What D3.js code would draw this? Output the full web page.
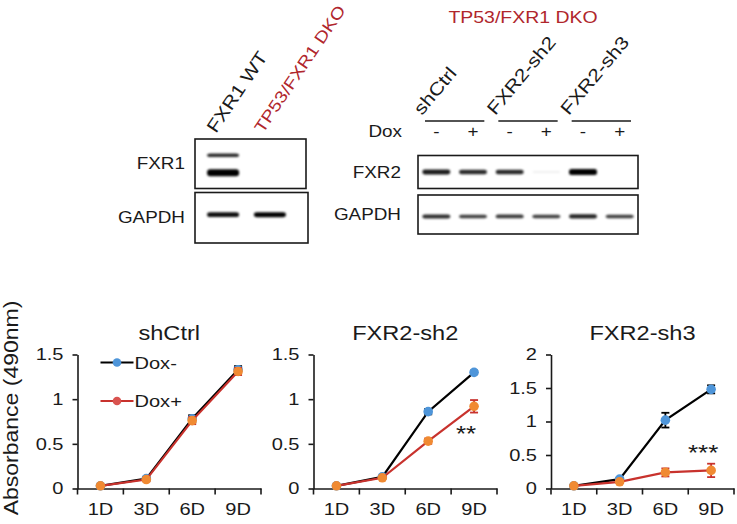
<!DOCTYPE html>
<html><head><meta charset="utf-8">
<script src="https://cdn.jsdelivr.net/npm/d3@7"></script>
<style>
body{margin:0;background:#fff}
svg{display:block}
text{font-family:"Liberation Sans",Arial,Helvetica,sans-serif}
</style>
</head><body>
<svg id="fig" width="737" height="524"></svg>
<script>
// ================= DATA =================
const days = ["1D", "3D", "6D", "9D"];
const panelNames = ["shCtrl", "FXR2-sh2", "FXR2-sh3"];
const seriesNames = ["Dox-", "Dox+"];

const shCtrlDoxMinus    = [0.03, 0.11, 0.78, 1.33];
const shCtrlDoxMinusErr = [0.01, 0.02, 0.04, 0.04];
const shCtrlDoxPlus     = [0.03, 0.10, 0.76, 1.31];
const shCtrlDoxPlusErr  = [0.01, 0.02, 0.04, 0.04];

const sh2DoxMinus    = [0.03, 0.13, 0.86, 1.30];
const sh2DoxMinusErr = [0.01, 0.01, 0.03, 0.02];
const sh2DoxPlus     = [0.03, 0.12, 0.53, 0.92];
const sh2DoxPlusErr  = [0.01, 0.01, 0.03, 0.07];

const sh3DoxMinus    = [0.04, 0.14, 1.02, 1.48];
const sh3DoxMinusErr = [0.01, 0.02, 0.11, 0.06];
const sh3DoxPlus     = [0.04, 0.10, 0.24, 0.27];
const sh3DoxPlusErr  = [0.01, 0.02, 0.06, 0.10];

const yMaxes = [1.5, 1.5, 2];
const yTicksLow = [0, 0.5, 1, 1.5];
const yTicksHigh = [0, 0.5, 1, 1.5, 2];
const sigMarks = ["", "**", "***"];
const sigValues = [null, 0.67, 0.61];
const yAxisTitle = "Absorbance (490nm)";

// western blot 1
const blot1Lanes = ["FXR1 WT", "TP53/FXR1 DKO"];
const blot1Rows = ["FXR1", "GAPDH"];
const fxr1UpperBand = [0.8, 0];
const fxr1LowerBand = [1.0, 0];
const gapdh1Band = [0.9, 0.95];

// western blot 2
const blot2Title = "TP53/FXR1 DKO";
const blot2Groups = ["shCtrl", "FXR2-sh2", "FXR2-sh3"];
const doxStates = ["-", "+"];
const doxLabel = "Dox";
const blot2Rows = ["FXR2", "GAPDH"];
const fxr2Band = [0.85, 0.8, 0.8, 0.06, 1.0, 0];
const gapdh2Band = [0.78, 0.72, 0.74, 0.72, 0.82, 0.72];

// ================= DRAW =================
const SX = 1.18;              // horizontal glyph stretch of the original figure
const INK = "#1a1a1a";
const DARKRED = "#b0262c";
const svg = d3.select("#fig");
const defs = svg.append("defs");
defs.append("filter").attr("id", "blur")
  .attr("x", "-30%").attr("y", "-150%").attr("width", "160%").attr("height", "400%")
  .append("feGaussianBlur").attr("stdDeviation", 0.9);

function stext(parent, x, y, str, o = {}) {
  return parent.append("text")
    .attr("transform", `translate(${x},${y})${o.rotate ? ` rotate(${o.rotate})` : ""} scale(${SX},1)`)
    .attr("text-anchor", o.anchor || "start")
    .attr("font-size", o.size || 16)
    .attr("fill", o.fill || INK)
    .text(str);
}

// ---------- Blot 1 ----------
const b1 = svg.append("g");
const b1x0 = 195, b1x1 = 306;
const b1Boxes = [{ y0: 139, y1: 188.5 }, { y0: 192.5, y1: 243 }];
const b1Lane = d3.scalePoint().domain(blot1Lanes).range([b1x0, 298]).padding(0.6);
b1Boxes.forEach((bx, i) => {
  b1.append("rect").attr("x", b1x0).attr("y", bx.y0)
    .attr("width", b1x1 - b1x0 + (i ? 2 : 0)).attr("height", bx.y1 - bx.y0)
    .attr("fill", "#fff").attr("stroke", INK).attr("stroke-width", 1.6);
  stext(b1, 185, (bx.y0 + bx.y1) / 2 + 5.5, blot1Rows[i], { anchor: "end", size: 16 });
});
const b1Bands = [
  { box: 0, frac: 0.33, vals: fxr1UpperBand, h: 4 },
  { box: 0, frac: 0.68, vals: fxr1LowerBand, h: 7 },
  { box: 1, frac: 0.44, vals: gapdh1Band, h: 5 }
];
b1Bands.forEach(bd => {
  const bx = b1Boxes[bd.box];
  const cy = bx.y0 + (bx.y1 - bx.y0) * bd.frac;
  b1.selectAll(null).data(bd.vals.map((v, i) => ({ v, lane: blot1Lanes[i] })).filter(d => d.v > 0))
    .join("rect")
    .attr("x", d => b1Lane(d.lane) - 16).attr("width", 32)
    .attr("y", d => cy - bd.h * (0.4 + 0.6 * d.v) / 2).attr("height", d => bd.h * (0.4 + 0.6 * d.v))
    .attr("rx", 3)
    .attr("fill", "#000").attr("fill-opacity", d => Math.min(1, d.v * 1.05))
    .attr("filter", "url(#blur)");
});
blot1Lanes.forEach((ln, i) => {
  stext(b1, b1Lane(ln) - 7, 134, ln, { rotate: -56, size: i ? 16.5 : 18, fill: i ? DARKRED : INK });
});

// ---------- Blot 2 ----------
const b2 = svg.append("g");
const b2x0 = 418, b2x1 = 638;
const b2Boxes = [{ y0: 155.5, y1: 188.5 }, { y0: 195, y1: 234 }];
const laneIds = [];
blot2Groups.forEach(g => doxStates.forEach(s => laneIds.push(g + s)));
const b2Lane = d3.scaleBand().domain(laneIds).range([b2x0, b2x1]);
const b2Group = d3.scaleBand().domain(blot2Groups).range([b2x0, b2x1]);
stext(b2, 523, 23, blot2Title, { anchor: "middle", size: 16.5, fill: DARKRED });
blot2Groups.forEach(g => {
  const gx = b2Group(g), gw = b2Group.bandwidth();
  b2.append("line").attr("x1", gx + 7).attr("x2", gx + gw - 7)
    .attr("y1", 121).attr("y2", 121).attr("stroke", INK).attr("stroke-width", 1.4);
  stext(b2, gx + 4, 116, g, { rotate: -50, size: 18 });
});
stext(b2, 402, 137, doxLabel, { anchor: "end", size: 16 });
laneIds.forEach((id, i) => {
  stext(b2, b2Lane(id) + b2Lane.bandwidth() / 2, 137, doxStates[i % 2], { anchor: "middle", size: 16 });
});
b2Boxes.forEach((bx, i) => {
  b2.append("rect").attr("x", b2x0).attr("y", bx.y0)
    .attr("width", b2x1 - b2x0).attr("height", bx.y1 - bx.y0)
    .attr("fill", "#fff").attr("stroke", INK).attr("stroke-width", 1.6);
  stext(b2, 401, (bx.y0 + bx.y1) / 2 + 5.5, blot2Rows[i], { anchor: "end", size: 16 });
});
[{ box: 0, frac: 0.5, vals: fxr2Band, h: 6 }, { box: 1, frac: 0.55, vals: gapdh2Band, h: 5.5 }].forEach(bd => {
  const bx = b2Boxes[bd.box];
  const cy = bx.y0 + (bx.y1 - bx.y0) * bd.frac;
  b2.selectAll(null).data(bd.vals.map((v, i) => ({ v, lane: laneIds[i] })).filter(d => d.v > 0))
    .join("rect")
    .attr("x", d => b2Lane(d.lane) + b2Lane.bandwidth() / 2 - 14).attr("width", 28)
    .attr("y", d => cy - bd.h * (0.3 + 0.7 * d.v * d.v) / 2).attr("height", d => bd.h * (0.3 + 0.7 * d.v * d.v))
    .attr("rx", 2.5)
    .attr("fill", "#000").attr("fill-opacity", d => Math.min(1, d.v * 1.05))
    .attr("filter", "url(#blur)");
});

// ---------- Growth curves ----------
const panels = [
  { minus: shCtrlDoxMinus, minusErr: shCtrlDoxMinusErr, plus: shCtrlDoxPlus, plusErr: shCtrlDoxPlusErr, ticks: yTicksLow, x0: 77.5, x1: 261 },
  { minus: sh2DoxMinus, minusErr: sh2DoxMinusErr, plus: sh2DoxPlus, plusErr: sh2DoxPlusErr, ticks: yTicksLow, x0: 313.5, x1: 497 },
  { minus: sh3DoxMinus, minusErr: sh3DoxMinusErr, plus: sh3DoxPlus, plusErr: sh3DoxPlusErr, ticks: yTicksHigh, x0: 551, x1: 734 }
];
const yBottom = 488.5, yTop = 354.5;
const COL = {
  minus: { line: "#000", marker: "#4e95d9", err: "#000" },
  plus: { line: "#c8322d", marker: "#f08a32", err: "#c8322d" }
};

stext(svg, 18, 408, yAxisTitle, { rotate: -90, anchor: "middle", size: 19.5 });

panels.forEach((p, pi) => {
  const g = svg.append("g");
  const y = d3.scaleLinear().domain([0, yMaxes[pi]]).range([yBottom, yTop]);
  const x = d3.scaleBand().domain(days).range([p.x0, p.x1]);
  const cx = d => x(d) + x.bandwidth() / 2;

  stext(g, (p.x0 + p.x1) / 2, 340, panelNames[pi], { anchor: "middle", size: 20 });

  // y axis
  const ya = g.append("g").attr("transform", `translate(${p.x0},0)`)
    .call(d3.axisLeft(y).tickValues(p.ticks).tickSizeInner(5).tickSizeOuter(0).tickPadding(8).tickFormat(d3.format("~g")));
  // x axis
  const xa = g.append("g").attr("transform", `translate(0,${yBottom})`)
    .call(d3.axisBottom(x).tickSize(0).tickPadding(14));
  [ya, xa].forEach(a => {
    a.attr("font-size", 17).attr("font-family", null).attr("color", INK);
    a.select(".domain").attr("stroke-width", 1.6);
    a.selectAll(".tick line").attr("stroke-width", 1.6);
    a.selectAll("text").attr("fill", INK);
  });
  ya.selectAll(".tick text").attr("x", -14 / SX).attr("transform", `scale(${SX},1)`);
  xa.selectAll(".tick text").attr("transform", `scale(${SX},1)`);
  // category boundary ticks
  xa.selectAll("line.bound").data(d3.range(days.length + 1)).join("line").attr("class", "bound")
    .attr("x1", i => p.x0 + i * x.step()).attr("x2", i => p.x0 + i * x.step())
    .attr("y1", 0).attr("y2", 6).attr("stroke", INK).attr("stroke-width", 1.6);

  const line = d3.line().x(d => cx(d.day)).y(d => y(d.v));
  ["minus", "plus"].forEach(key => {
    const c = COL[key];
    const pts = days.map((day, i) => ({ day, v: p[key][i], e: p[key + "Err"][i] }));
    g.append("path").datum(pts).attr("d", line)
      .attr("fill", "none").attr("stroke", c.line).attr("stroke-width", 2.2);
    const eb = g.append("g").attr("stroke", c.err).attr("stroke-width", 1.8);
    eb.selectAll("line.v").data(pts).join("line").attr("class", "v")
      .attr("x1", d => cx(d.day)).attr("x2", d => cx(d.day))
      .attr("y1", d => y(d.v - d.e)).attr("y2", d => y(d.v + d.e));
    eb.selectAll("line.t").data(pts).join("line").attr("class", "t")
      .attr("x1", d => cx(d.day) - 4).attr("x2", d => cx(d.day) + 4)
      .attr("y1", d => y(d.v + d.e)).attr("y2", d => y(d.v + d.e));
    eb.selectAll("line.b").data(pts).join("line").attr("class", "b")
      .attr("x1", d => cx(d.day) - 4).attr("x2", d => cx(d.day) + 4)
      .attr("y1", d => y(d.v - d.e)).attr("y2", d => y(d.v - d.e));
    g.selectAll(null).data(pts).join("circle")
      .attr("cx", d => cx(d.day)).attr("cy", d => y(d.v)).attr("r", 4.8)
      .attr("fill", c.marker);
  });

  if (sigMarks[pi]) {
    stext(g, cx("9D") - 8, y(sigValues[pi]) + 12.5, sigMarks[pi], { anchor: "middle", size: 22 });
  }

  if (pi === 0) {
    const lg = g.append("g");
    const legendKeys = [{ key: "minus", mk: "#4e95d9" }, { key: "plus", mk: "#d9534f" }];
    legendKeys.forEach((k, i) => {
      const ly = yTop + 8 + i * 38.5;
      const lx = p.x0 + 23;
      lg.append("line").attr("x1", lx).attr("x2", lx + 33).attr("y1", ly).attr("y2", ly)
        .attr("stroke", COL[k.key].line).attr("stroke-width", 2.2);
      lg.append("circle").attr("cx", lx + 16.5).attr("cy", ly).attr("r", 4.3).attr("fill", k.mk);
      stext(lg, lx + 34, ly + 6, seriesNames[i], { size: 17 });
    });
  }
});
</script>
</body></html>
